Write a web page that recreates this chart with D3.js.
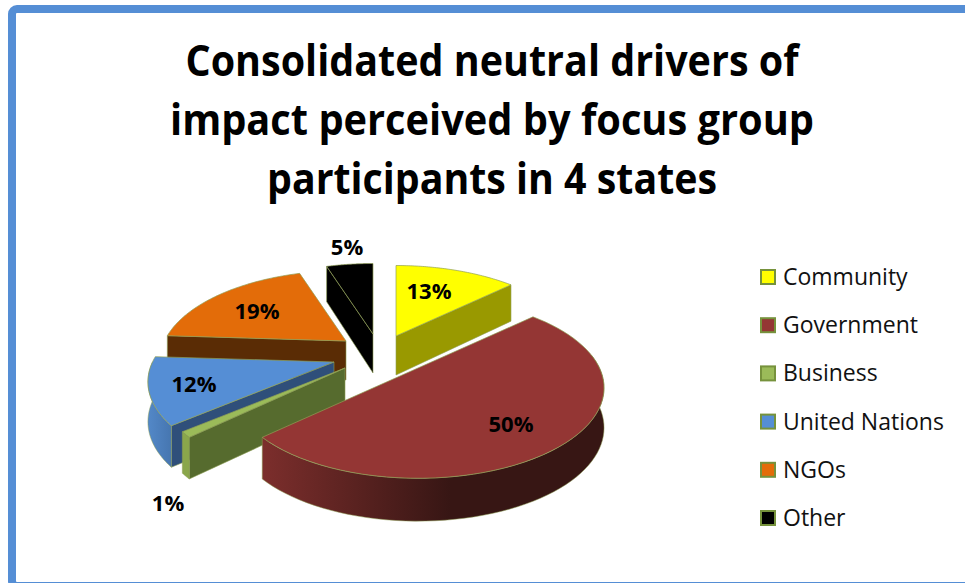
<!DOCTYPE html>
<html><head><meta charset="utf-8">
<script src="https://cdnjs.cloudflare.com/ajax/libs/d3/7.8.5/d3.min.js"></script>
<style>html,body{margin:0;padding:0;background:#fff;overflow:hidden}svg{display:block}text{font-family:"Open Sans",sans-serif}</style>
</head><body><svg width="965" height="583"></svg>
<script>
const titleLines = ["Consolidated neutral drivers of","impact perceived by focus group","participants in 4 states"];
const categories = ["Community","Government","Business","United Nations","NGOs","Other"];
const values = [13,50,1,12,19,5];
const topColors = ["#ffff00","#943634","#9bbb59","#558ed5","#e36c09","#000000"];
const cutColors = ["#999900","#632523","#566b2e","#2f4f7a","#5a2c05","#000000"];
const rimColorsA = ["#999900","#7c2e2c","#8aa64b","#5388c8","#5a2c05","#000000"];
const rimColorsB = ["#999900","#371614","#8aa64b","#4676b0","#5a2c05","#000000"];
// explosion of each slice away from the pie centre, and where its label sits
const explodeX = [16,38,-35,-46,-34,-7];
const explodeY = [-14,18,18,12,-9,-16];
const labelDX = [33,93,-177,-140,-89,-26];
const labelDY = [-46,55,134,21,-31,-88];
// rendered widths of the title lines
const titleWidths = [613,644,450];

const svg = d3.select("svg");
const defs = svg.append("defs");
const CX=380, CY=350, R=181.5, RY=86, K=0.22, H=39;
const ink="#000", outline="#8f9f55";

svg.append("rect").attr("x",12).attr("y",9).attr("width",1000).attr("height",577).attr("rx",5)
  .attr("fill","#fff").attr("stroke","#558ed5").attr("stroke-width",8);

svg.append("g").selectAll("text").data(titleLines).join("text")
  .attr("x",492).attr("y",(d,i)=>75.5+i*59).attr("text-anchor","middle")
  .attr("font-size",42.5).attr("font-weight",700).attr("fill",ink)
  .attr("textLength",(d,i)=>titleWidths[i]).attr("lengthAdjust","spacingAndGlyphs").text(d=>d);

const pie = d3.pie().value(d=>d).sort(null);
const arcs = pie(values).map((a,i)=>({...a,i}));
const project = (i,ang,rad,drop)=>{
  const X=rad*Math.sin(ang),Y=rad*Math.cos(ang),s=1/(1+K*Y);
  return [CX+explodeX[i]+R*X*s, CY+explodeY[i]-RY*Y*s+(drop?H*(1-0.1*Y):0)];
};
const line=d3.line();
const angles=(a,b)=>d3.range(0,61).map(t=>a+(b-a)*t/60);
const paint=[4,5,0,3,2,1];           // far slices first
const g=svg.append("g");
paint.forEach(idx=>{
  const a=arcs[idx],i=a.i,s=a.startAngle,e=a.endAngle;
  const grp=g.append("g");
  const drawCut=ang=>{
    grp.append("path").attr("d",line([project(i,ang,0,false),project(i,ang,1,false),project(i,ang,1,true),project(i,ang,0,true)])+"Z")
      .attr("fill",cutColors[i]).attr("stroke",outline).attr("stroke-width",0.6);
  };
  if(Math.sin(s)<-1e-6) drawCut(s);
  if(Math.sin(e)>1e-6) drawCut(e);
  const lo=Math.max(s,Math.PI*0.45),hi=Math.min(e,Math.PI*1.5);
  if(hi>lo){
    const as=angles(lo,hi);
    const top=as.map(t=>project(i,t,1,false)),bot=as.map(t=>project(i,t,1,true)).reverse();
    const xs=top.map(p=>p[0]);
    const gid="rim"+i;
    const lg=defs.append("linearGradient").attr("id",gid).attr("gradientUnits","userSpaceOnUse")
      .attr("x1",d3.min(xs)).attr("x2",d3.max(xs)).attr("y1",0).attr("y2",0);
    lg.append("stop").attr("offset","0").attr("stop-color",rimColorsA[i]);
    lg.append("stop").attr("offset",i===1?"0.55":"1").attr("stop-color",rimColorsB[i]);
    grp.append("path").attr("d",line(top.concat(bot))+"Z").attr("fill",`url(#${gid})`)
      .attr("stroke",outline).attr("stroke-width",0.5);
  }
  const pts=[project(i,s,0,false)].concat(angles(s,e).map(t=>project(i,t,1,false)));
  grp.append("path").attr("d",line(pts)+"Z").attr("fill",topColors[i]).attr("stroke",outline).attr("stroke-width",0.7);
});

svg.append("g").selectAll("text").data(arcs).join("text")
  .attr("x",d=>CX+explodeX[d.i]+labelDX[d.i]).attr("y",d=>CY+explodeY[d.i]+labelDY[d.i])
  .attr("text-anchor","middle").attr("dominant-baseline","central")
  .attr("font-size",22).attr("font-weight",700).attr("fill",ink).text(d=>d.value+"%");

const ly=d3.scalePoint().domain(categories).range([277,518]);
const leg=svg.append("g").selectAll("g").data(categories).join("g").attr("transform",d=>`translate(761,${ly(d)})`);
leg.append("rect").attr("x",0).attr("y",-7).attr("width",14).attr("height",14)
  .attr("fill",(d,i)=>topColors[i]).attr("stroke","#76923c").attr("stroke-width",2);
leg.append("text").attr("x",22).attr("y",-1).attr("dominant-baseline","central")
  .attr("font-size",23).attr("fill","#111").text(d=>d);
</script></body></html>
